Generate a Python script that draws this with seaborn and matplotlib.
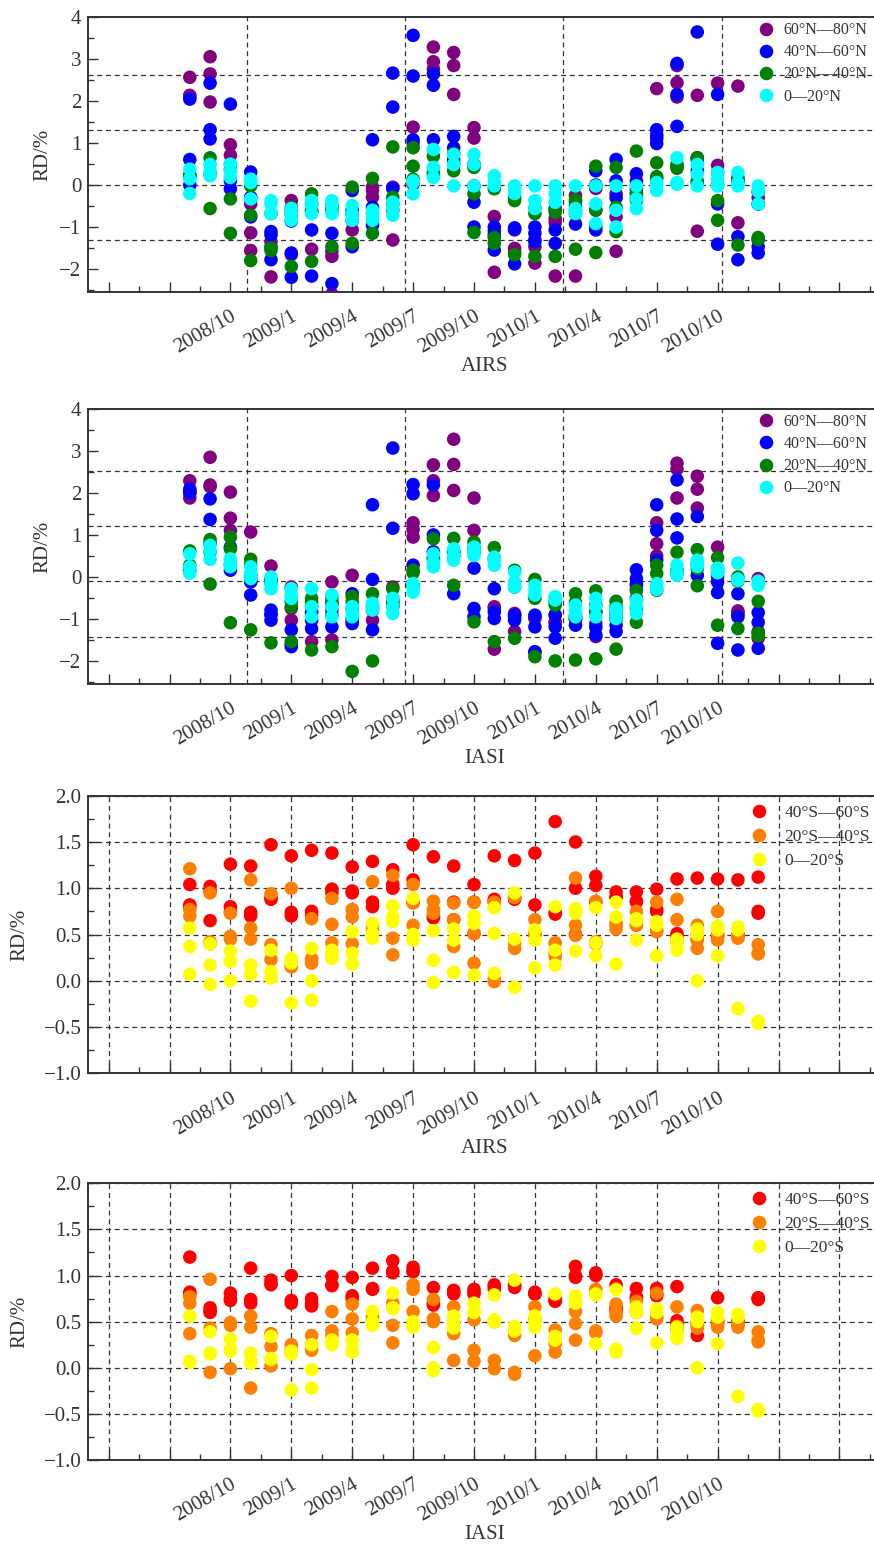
import numpy as np
import pandas as pd
import matplotlib
matplotlib.use('Agg')
import matplotlib.pyplot as plt
import matplotlib.ticker as mticker
import seaborn as sns

# months with data: 2008/8 .. 2010/12 (three RD values per band per month)
months = pd.period_range('2008-08', '2010-12', freq='M')

north_labels = ['60°N—80°N', '40°N—60°N', '20°N—40°N', '0—20°N']
south_labels = ['40°S—60°S', '20°S—40°S', '0—20°S']
north_colors = ['#800080', '#0000ff', '#008000', '#00ffff']
south_colors = ['#ff0000', '#ff8000', '#ffff00']

# ---- AIRS, northern hemisphere ----
airs_n60 = [[2.57, 2.14, 2.12], [3.06, 2.65, 1.98], [0.96, 0.71, 0.49], [-0.45, -1.14, -1.56],
            [-1.35, -1.47, -2.19], [-0.37, -0.7, -1.66], [-0.6, -0.65, -1.53], [-1.58, -1.7, -2.6],
            [-0.7, -1.07, -0.85], [-0.05, -0.13, -0.29], [-0.05, -0.6, -1.31], [1.38, 1.0, 0.02],
            [3.29, 2.94, 2.77], [3.16, 2.85, 2.16], [1.37, 1.12, 0.5], [-0.75, -1.1, -2.08],
            [-1.07, -1.51, -1.6], [-1.3, -1.47, -1.86], [-0.8, -0.9, -2.17], [-0.25, -0.6, -2.17],
            [-0.08, -0.6, -1.0], [-0.21, -0.76, -1.58], [0.0, -0.2, -0.3], [2.3, 1.2, 1.1],
            [2.85, 2.44, 2.1], [2.14, 0.6, -1.1], [2.43, 0.47, 0.3], [2.36, 0.1, -0.9],
            [-0.17, -0.3, -1.3]]
airs_n40 = [[2.05, 0.61, 0.0], [2.43, 1.32, 1.1], [1.93, 0.1, -0.09], [0.31, -0.29, -0.76],
            [-1.11, -1.19, -1.78], [-0.86, -1.62, -2.2], [-0.45, -1.07, -2.17], [-1.15, -2.35, -0.5],
            [-0.13, -0.6, -1.47], [1.08, -0.53, -0.96], [2.67, 1.86, -0.08], [3.57, 2.6, 1.08],
            [2.65, 2.38, 1.08], [1.16, 0.89, 0.6], [-0.02, -0.41, -1.0], [-1.0, -1.19, -1.55],
            [-1.02, -1.88, -1.05], [-1.0, -1.15, -1.35], [-0.56, -1.07, -1.39], [-0.5, -0.68, -0.93],
            [0.34, 0.0, -1.07], [0.61, 0.1, -0.3], [0.27, 0.1, -0.1], [1.32, 1.16, 0.99],
            [2.9, 2.16, 1.4], [3.65, 0.65, 0.35], [2.16, -0.45, -1.41], [0.15, -1.23, -1.78],
            [-0.45, -1.47, -1.62]]
airs_n20 = [[0.25, 0.2, 0.22], [0.65, 0.26, -0.56], [0.38, -0.33, -1.15], [-0.02, -0.72, -1.8],
            [-0.68, -1.56, -1.5], [-0.53, -0.62, -1.94], [-0.21, -0.62, -1.82], [-1.47, -0.5, -0.6],
            [-0.05, -0.68, -1.39], [0.16, -0.68, -1.15], [0.91, -0.29, -0.45], [0.89, 0.45, 0.14],
            [0.69, 0.3, 0.25], [0.75, 0.5, 0.34], [0.42, -0.21, -1.13], [-0.09, -1.39, -1.25],
            [-0.37, -0.3, -1.66], [-0.68, -1.7, -0.55], [-0.6, -0.65, -1.7], [-0.35, -0.4, -1.53],
            [0.45, -0.59, -1.61], [0.42, -0.53, -1.11], [0.81, -0.2, -0.37], [0.53, 0.2, 0.15],
            [0.49, 0.45, 0.4], [0.65, 0.1, 0.05], [-0.37, -0.84, 0.0], [0.18, 0.1, -1.43],
            [-0.45, -1.25, -1.3]]
airs_n0 = [[0.38, 0.15, -0.2], [0.49, 0.34, 0.22], [0.5, 0.34, 0.18], [0.14, 0.06, -0.33],
           [-0.37, -0.45, -0.68], [-0.56, -0.68, -0.84], [-0.37, -0.49, -0.68], [-0.37, -0.49, -0.68],
           [-0.49, -0.68, -0.84], [-0.6, -0.72, -0.84], [-0.41, -0.56, -0.72], [0.1, 0.06, -0.21],
           [0.85, 0.42, 0.18], [0.73, 0.49, -0.02], [0.73, 0.49, -0.02], [0.22, 0.06, -0.02],
           [-0.02, -0.13, -0.2], [-0.02, -0.37, -0.56], [-0.02, -0.21, -0.41], [-0.02, -0.56, -0.68],
           [-0.02, -0.45, -0.92], [-0.02, -0.6, -1.0], [-0.02, -0.33, -0.56], [0.06, 0.0, -0.13],
           [0.65, 0.06, 0.02], [0.49, 0.26, -0.02], [0.3, 0.14, -0.02], [0.3, 0.05, -0.02],
           [-0.02, -0.15, -0.45]]

# ---- IASI, northern hemisphere ----
iasi_n60 = [[2.29, 2.0, 1.88], [2.85, 2.19, 2.15], [2.02, 1.4, 1.11], [1.07, -0.05, -0.12],
            [0.26, -0.05, -0.9], [-0.24, -0.75, -1.03], [-0.7, -0.85, -1.54], [-0.12, -0.8, -1.5],
            [0.04, -0.75, -0.99], [-0.7, -0.8, -1.03], [-0.24, -0.6, -0.7], [1.29, 1.13, 0.95],
            [2.67, 2.29, 1.94], [3.28, 2.68, 2.06], [1.88, 1.11, 0.7], [-0.71, -0.75, -1.72],
            [-0.87, -0.9, -1.3], [-0.95, -0.99, -1.8], [-0.9, -1.07, -1.1], [-0.95, -0.99, -1.0],
            [-0.67, -1.11, -1.42], [-0.83, -0.9, -1.0], [-0.16, -0.3, -0.5], [1.29, 0.79, 0.5],
            [2.71, 2.57, 1.88], [2.4, 2.09, 1.64], [0.71, 0.1, 0.0], [-0.81, -0.85, -0.9],
            [-0.04, -1.3, -1.46]]
iasi_n40 = [[2.09, 2.05, 2.0], [1.86, 1.37, 0.8], [0.71, 0.3, 0.16], [0.05, -0.1, -0.43],
            [-0.79, -0.9, -1.03], [-1.26, -1.66, -1.6], [-0.85, -1.03, -1.23], [-0.91, -1.19, -0.6],
            [-0.4, -1.05, -1.11], [1.72, -0.06, -1.26], [3.07, 1.16, -0.7], [2.2, 1.98, 0.28],
            [2.19, 1.0, 0.6], [0.6, 0.5, -0.4], [0.21, -0.75, -0.95], [-0.28, -0.83, -0.99],
            [-0.91, -1.03, -0.95], [-0.91, -1.19, -1.78], [-0.91, -1.19, -1.46], [-0.91, -1.15, -1.0],
            [-0.83, -1.38, -1.2], [-1.0, -1.15, -1.3], [0.17, -0.04, -0.2], [1.72, 1.11, 0.4],
            [2.31, 1.38, 0.93], [1.44, 0.3, 0.04], [-0.12, -0.37, -1.58], [-0.4, -0.95, -1.74],
            [-0.85, -1.08, -1.7]]
iasi_n20 = [[0.62, 0.28, 0.15], [0.89, 0.6, -0.17], [0.95, 0.67, -1.09], [0.42, 0.3, -1.26],
            [-0.1, -0.15, -1.57], [-0.59, -0.71, -1.54], [-0.51, -0.6, -1.74], [-0.5, -0.65, -1.66],
            [-0.47, -0.59, -2.25], [-0.4, -0.75, -2.0], [-0.28, -0.51, -0.55], [0.16, 0.1, -0.2],
            [0.91, 0.45, 0.43], [0.92, 0.6, -0.2], [0.83, 0.6, -1.07], [0.7, 0.45, -1.54],
            [0.16, -0.24, -1.46], [-0.06, -0.51, -1.9], [-0.6, -0.67, -2.0], [-0.4, -0.6, -1.98],
            [-0.33, -0.83, -1.95], [-0.58, -0.7, -1.72], [-0.32, -0.74, -1.08], [0.28, 0.08, -0.32],
            [0.59, 0.16, 0.1], [0.65, 0.2, -0.21], [0.46, 0.2, -1.15], [0.0, -0.1, -1.23],
            [-0.58, -1.34, -1.4]]
iasi_n0 = [[0.55, 0.24, 0.09], [0.75, 0.63, 0.42], [0.43, 0.32, 0.24], [0.24, 0.08, -0.04],
           [0.0, -0.16, -0.28], [-0.28, -0.43, -0.51], [-0.28, -0.71, -0.95], [-0.43, -0.71, -0.95],
           [-0.71, -0.85, -0.95], [-0.63, -0.67, -0.79], [-0.51, -0.71, -0.87], [-0.16, -0.26, -0.36],
           [0.55, 0.35, 0.24], [0.67, 0.51, 0.4], [0.71, 0.63, 0.51], [0.47, 0.4, 0.28],
           [0.12, -0.12, -0.24], [-0.2, -0.32, -0.43], [-0.47, -0.55, -0.5], [-0.67, -0.83, -0.95],
           [-0.51, -0.95, -0.7], [-0.75, -0.99, -0.85], [-0.55, -0.87, -0.7], [-0.16, -0.24, -0.3],
           [0.28, 0.1, 0.04], [0.4, 0.32, 0.25], [0.21, 0.16, 0.1], [0.33, -0.08, -0.05],
           [-0.16, -0.2, -0.1]]

# ---- AIRS, southern hemisphere ----
airs_s40 = [[1.04, 0.82, 0.8], [1.02, 0.97, 0.65], [1.26, 0.8, 0.75], [1.24, 0.74, 0.7],
            [1.47, 0.9, 0.88], [1.35, 0.74, 0.7], [1.41, 0.75, 0.7], [1.38, 0.99, 0.95],
            [1.23, 0.97, 0.95], [1.29, 0.85, 0.8], [1.2, 1.04, 1.0], [1.47, 1.09, 0.85],
            [1.34, 0.68, 0.7], [1.24, 0.85, 0.66], [1.04, 0.85, 0.51], [1.35, 0.88, 0.85],
            [1.3, 0.88, 0.9], [1.38, 0.82, 0.5], [1.72, 0.74, 0.72], [1.5, 1.0, 0.5],
            [1.13, 1.03, 0.85], [0.96, 0.91, 0.9], [0.96, 0.86, 0.85], [0.99, 0.77, 0.75],
            [1.1, 0.51, 0.48], [1.11, 0.5, 0.45], [1.1, 0.5, 0.48], [1.09, 0.49, 0.5],
            [1.12, 0.75, 0.73]]
airs_s20 = [[1.21, 0.77, 0.7], [0.95, 0.42, 0.4], [0.73, 0.48, 0.45], [1.09, 0.57, 0.45],
            [0.94, 0.39, 0.23], [1.0, 0.17, 0.15], [0.67, 0.24, 0.19], [0.89, 0.61, 0.41],
            [0.77, 0.69, 0.4], [1.07, 0.6, 0.55], [1.14, 0.46, 0.28], [1.04, 0.84, 0.6],
            [0.86, 0.77, 0.73], [0.84, 0.66, 0.37], [0.85, 0.51, 0.19], [0.85, 0.02, -0.01],
            [0.9, 0.35, 0.4], [0.66, 0.51, 0.5], [0.41, 0.26, 0.3], [1.11, 0.6, 0.49],
            [0.86, 0.42, 0.4], [0.62, 0.56, 0.6], [0.75, 0.6, 0.6], [0.85, 0.53, 0.55],
            [0.88, 0.66, 0.42], [0.6, 0.44, 0.35], [0.75, 0.51, 0.44], [0.5, 0.46, 0.48],
            [0.39, 0.29, 0.3]]
airs_s0 = [[0.57, 0.37, 0.07], [0.4, 0.17, -0.04], [0.32, 0.21, 0.0], [0.17, 0.07, -0.22],
           [0.33, 0.1, 0.03], [0.24, 0.19, -0.24], [0.35, 0.0, -0.21], [0.33, 0.28, 0.24],
           [0.53, 0.3, 0.18], [0.62, 0.51, 0.46], [0.81, 0.69, 0.64], [0.89, 0.5, 0.44],
           [0.54, 0.22, -0.02], [0.56, 0.44, 0.09], [0.7, 0.62, 0.06], [0.79, 0.51, 0.08],
           [0.95, 0.45, -0.07], [0.55, 0.44, 0.14], [0.8, 0.33, 0.17], [0.78, 0.73, 0.32],
           [0.79, 0.41, 0.27], [0.85, 0.69, 0.18], [0.67, 0.65, 0.44], [0.64, 0.6, 0.27],
           [0.45, 0.41, 0.33], [0.56, 0.5, 0.0], [0.59, 0.55, 0.27], [0.58, 0.55, -0.3],
           [-0.46, -0.45, -0.44]]

# ---- IASI, southern hemisphere ----
iasi_s40 = [[1.2, 0.82, 0.8], [0.65, 0.6, 0.62], [0.81, 0.73, 0.75], [1.08, 0.74, 0.7],
            [0.95, 0.91, 0.9], [1.0, 0.73, 0.7], [0.75, 0.67, 0.7], [0.99, 0.89, 0.9],
            [0.98, 0.78, 0.75], [1.08, 0.86, 0.85], [1.16, 1.03, 1.05], [1.09, 1.04, 1.05],
            [0.87, 0.68, 0.7], [0.84, 0.8, 0.82], [0.85, 0.8, 0.82], [0.9, 0.88, 0.85],
            [0.89, 0.9, 0.87], [0.82, 0.8, 0.8], [0.73, 0.75, 0.72], [1.1, 1.0, 0.98],
            [1.03, 1.0, 1.01], [0.9, 0.65, 0.62], [0.86, 0.77, 0.75], [0.86, 0.78, 0.8],
            [0.88, 0.51, 0.48], [0.35, 0.5, 0.48], [0.76, 0.5, 0.48], [0.48, 0.5, 0.5],
            [0.76, 0.75, 0.74]]
iasi_s20 = [[0.77, 0.7, 0.37], [0.96, 0.43, -0.05], [0.49, 0.46, -0.01], [0.56, 0.44, -0.22],
            [0.37, 0.23, 0.02], [0.25, 0.16, 0.2], [0.35, 0.25, 0.19], [0.61, 0.4, 0.35],
            [0.69, 0.53, 0.38], [0.55, 0.52, 0.5], [0.7, 0.46, 0.27], [0.9, 0.85, 0.61],
            [0.74, 0.53, 0.5], [0.66, 0.37, 0.08], [0.52, 0.19, 0.07], [0.5, 0.08, -0.01],
            [0.35, -0.07, -0.05], [0.66, 0.52, 0.13], [0.41, 0.26, 0.17], [0.61, 0.48, 0.3],
            [0.85, 0.4, 0.38], [0.69, 0.56, 0.6], [0.72, 0.6, 0.62], [0.81, 0.53, 0.55],
            [0.66, 0.41, 0.45], [0.62, 0.43, 0.45], [0.52, 0.44, 0.5], [0.44, 0.48, 0.47],
            [0.39, 0.28, 0.3]]
iasi_s0 = [[0.56, 0.07, 0.06], [0.39, 0.16, 0.15], [0.31, 0.2, 0.18], [0.16, 0.06, 0.05],
           [0.34, 0.09, 0.1], [0.18, 0.15, -0.24], [0.25, -0.02, -0.22], [0.3, 0.25, 0.28],
           [0.3, 0.17, 0.2], [0.61, 0.46, 0.5], [0.81, 0.64, 0.65], [0.5, 0.44, 0.47],
           [0.22, -0.03, 0.0], [0.56, 0.43, 0.5], [0.7, 0.61, 0.6], [0.79, 0.52, 0.5],
           [0.95, 0.45, 0.4], [0.56, 0.44, 0.5], [0.8, 0.34, 0.3], [0.78, 0.72, 0.7],
           [0.79, 0.26, 0.8], [0.85, 0.17, 0.2], [0.66, 0.43, 0.6], [0.64, 0.27, 0.6],
           [0.44, 0.32, 0.38], [0.55, 0.5, 0.0], [0.6, 0.55, 0.26], [0.58, 0.55, -0.31],
           [-0.47, -0.46, -0.45]]

# reference dashed lines in the two northern panels
airs_n_hlines = [2.63, 1.31, 0.0, -1.31]
iasi_n_hlines = [2.52, 1.21, -0.1, -1.42]


def month_index(p):
    return (p.year - 2008) * 12 + p.month


def long_frame(bands, labels):
    rows = []
    for lab, vals in zip(labels, bands):
        for p, trio in zip(months, vals):
            for v in trio:
                rows.append((month_index(p), v, lab))
    return pd.DataFrame(rows, columns=['month', 'rd', 'band'])


sns.set_theme(style='ticks')
plt.rcParams['font.family'] = ['Liberation Serif', 'DejaVu Serif']
plt.rcParams['axes.unicode_minus'] = True

ink = '#333333'
dash = (0, (4, 3))
XMIN, XMAX = 3, 42

fig = plt.figure(figsize=(8.74, 15.52), dpi=100)
left, width = 88.3 / 874, (880 - 88.3) / 874
boxes = [(17.3, 292.0), (409.0, 684.0), (795.7, 1073.3), (1183.3, 1460.0)]

panels = [
    (long_frame([airs_n60, airs_n40, airs_n20, airs_n0], north_labels), north_colors, 'AIRS', 'north', airs_n_hlines),
    (long_frame([iasi_n60, iasi_n40, iasi_n20, iasi_n0], north_labels), north_colors, 'IASI', 'north', iasi_n_hlines),
    (long_frame([airs_s40, airs_s20, airs_s0], south_labels), south_colors, 'AIRS', 'south', None),
    (long_frame([iasi_s40, iasi_s20, iasi_s0], south_labels), south_colors, 'IASI', 'south', None),
]

xticks = np.arange(4, 41, 3)
xlabels = []
for t in xticks:
    yr, mo = 2008 + (t - 1) // 12, (t - 1) % 12 + 1
    xlabels.append(f'{yr}/{mo}' if 10 <= t <= 34 else '')

for (top, bot), (df, colors, name, hemi, hlines) in zip(boxes, panels):
    ax = fig.add_axes([left, 1 - bot / 1552, width, (bot - top) / 1552])
    sns.scatterplot(data=df, x='month', y='rd', hue='band', palette=colors,
                    s=95, linewidth=0, alpha=1, ax=ax, zorder=3)

    ax.set_xlim(XMIN, XMAX)
    ax.xaxis.set_major_locator(mticker.FixedLocator(xticks))
    ax.xaxis.set_minor_locator(mticker.FixedLocator(np.arange(5.5, 42, 3)))
    ax.set_xticklabels(xlabels, rotation=30, ha='right', va='top', rotation_mode='anchor')

    if hemi == 'north':
        ax.set_ylim(-2.55, 4.0)
        ax.yaxis.set_major_locator(mticker.MultipleLocator(1))
        ax.yaxis.set_minor_locator(mticker.MultipleLocator(0.5))
        ax.yaxis.set_major_formatter(mticker.FuncFormatter(lambda v, p: f'{v:.0f}'.replace('-', '\u2212')))
        for f in (0.2, 0.4, 0.6, 0.8):
            ax.axvline(XMIN + f * (XMAX - XMIN), color=ink, lw=0.9, ls=dash, zorder=1)
        for h in hlines:
            ax.axhline(h, color=ink, lw=0.9, ls=dash, zorder=1)
        ax.yaxis.set_label_coords(-0.045, 0.5)
        sns.move_legend(ax, 'upper left', bbox_to_anchor=(0.838, 1.005), frameon=False,
                        title=None, fontsize=11.5, handlelength=1.0, handletextpad=0.6,
                        labelspacing=0.38, borderaxespad=0)
    else:
        ax.set_ylim(-1.0, 2.0)
        ax.yaxis.set_major_locator(mticker.MultipleLocator(0.5))
        ax.yaxis.set_minor_locator(mticker.MultipleLocator(0.25))
        ax.yaxis.set_major_formatter(mticker.FuncFormatter(lambda v, p: f'{v:.1f}'.replace('-', '\u2212')))
        ax.grid(True, which='major', color=ink, lw=0.9, ls=dash, zorder=1)
        ax.set_axisbelow(True)
        ax.yaxis.set_label_coords(-0.074, 0.5)
        sns.move_legend(ax, 'upper left', bbox_to_anchor=(0.827, 0.993), frameon=False,
                        title=None, fontsize=12.5, handlelength=1.0, handletextpad=1.0,
                        labelspacing=0.45, borderaxespad=0)

    ax.tick_params(which='both', direction='in', bottom=True, left=True, top=False, right=False,
                   colors=ink, labelcolor=ink)
    ax.tick_params(which='major', length=7, width=1.0)
    ax.tick_params(which='minor', length=4, width=1.0)
    ax.tick_params(axis='x', which='major', labelsize=15, pad=11)
    ax.tick_params(axis='y', which='major', labelsize=15, pad=5)
    for side in ('left', 'bottom', 'top', 'right'):
        ax.spines[side].set_color(ink)
        ax.spines[side].set_linewidth(1.4)

    ax.set_ylabel('RD/%', fontsize=15, color=ink)
    ax.set_xlabel(name, fontsize=15, color=ink)
    ax.xaxis.set_label_coords(0.5, -0.235)
    for t in ax.get_legend().get_texts():
        t.set_color(ink)

fig.savefig('out.png', dpi=100)
